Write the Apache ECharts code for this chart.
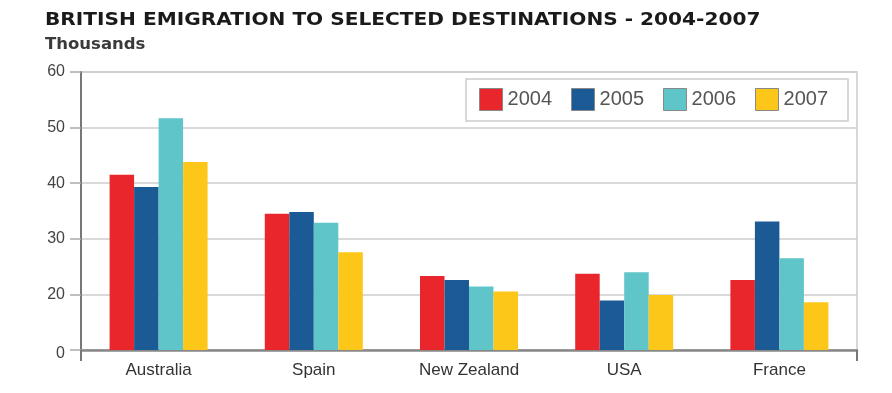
<!DOCTYPE html>
<html><head><meta charset="utf-8">
<script src="https://cdn.jsdelivr.net/npm/echarts@6/dist/echarts.min.js"></script>
<style>html,body{margin:0;padding:0;background:#fff}#c{width:892px;height:393px}</style>
</head><body><div id="c"></div>
<script>
const categories = ['Australia', 'Spain', 'New Zealand', 'USA', 'France'];
const years = ['2004', '2005', '2006', '2007'];
const v2004 = [41.5, 34.5, 23.3, 23.7, 22.6];
const v2005 = [39.3, 34.8, 22.6, 18.9, 33.1];
const v2006 = [51.7, 32.9, 21.4, 24.0, 26.5];
const v2007 = [43.8, 27.6, 20.5, 19.9, 18.6];
const yTicks = [0, 20, 30, 40, 50, 60];
const titleText = 'BRITISH EMIGRATION TO SELECTED DESTINATIONS - 2004-2007';
const subtitleText = 'Thousands';
const colors = ['#e8262b', '#1b5a95', '#5fc5c9', '#fdc719'];

const chart = echarts.init(document.getElementById('c'));
const seriesData = [v2004, v2005, v2006, v2007];
chart.setOption({
  animation: false,
  graphic: [
    { type: 'text', left: 45, top: 12, scaleX: 1.184, originX: 0,
      style: { text: titleText, font: 'bold 17px "DejaVu Sans"', fill: '#1a1a1a' } },
    { type: 'text', left: 45, top: 36,
      style: { text: subtitleText, font: 'bold 16.5px "DejaVu Sans"', fill: '#3a3a3a' } }
  ],
  legend: {
    data: years, right: 44, top: 79,
    backgroundColor: '#fff', borderColor: '#ccc', borderWidth: 1.5,
    padding: [9, 20, 10, 13], itemWidth: 23, itemHeight: 22, itemGap: 19,
    icon: 'rect',
    itemStyle: { borderColor: '#888', borderWidth: 1 },
    textStyle: { fontFamily: 'Liberation Sans', fontSize: 20, color: '#555' }
  },
  grid: { left: 81, right: 35, top: 72, bottom: 43, show: true, borderColor: '#ccc', borderWidth: 1.5, backgroundColor: 'transparent' },
  xAxis: {
    type: 'category', data: categories,
    axisLine: { lineStyle: { color: '#888', width: 2.5 } },
    axisTick: { show: true, length: 11, interval: function (i) { return i === 0; }, lineStyle: { color: '#777', width: 2 } },
    axisLabel: { fontFamily: 'Liberation Sans', fontSize: 17, color: '#333', margin: 12 }
  },
  yAxis: {
    type: 'value', min: 0, max: 60, interval: 10,
    breaks: [{ start: 0, end: 10, gap: 0 }],
    breakArea: { show: false },
    axisLine: { show: true, lineStyle: { color: '#777', width: 2 } },
    axisTick: { show: true, length: 11, lineStyle: { color: '#aaa', width: 1.5 } },
    splitLine: { lineStyle: { color: '#ccc', width: 1.5 } },
    axisLabel: {
      fontFamily: 'Liberation Sans', fontSize: 16, color: '#444', margin: 16,
      formatter: function (v) { return yTicks.indexOf(Math.round(v)) >= 0 ? String(Math.round(v)) : ''; }
    }
  },
  series: years.map((y, i) => ({
    name: y, type: 'bar', data: seriesData[i],
    barWidth: 24.5, barGap: '0%',
    itemStyle: { color: colors[i] }
  }))
});
</script></body></html>
